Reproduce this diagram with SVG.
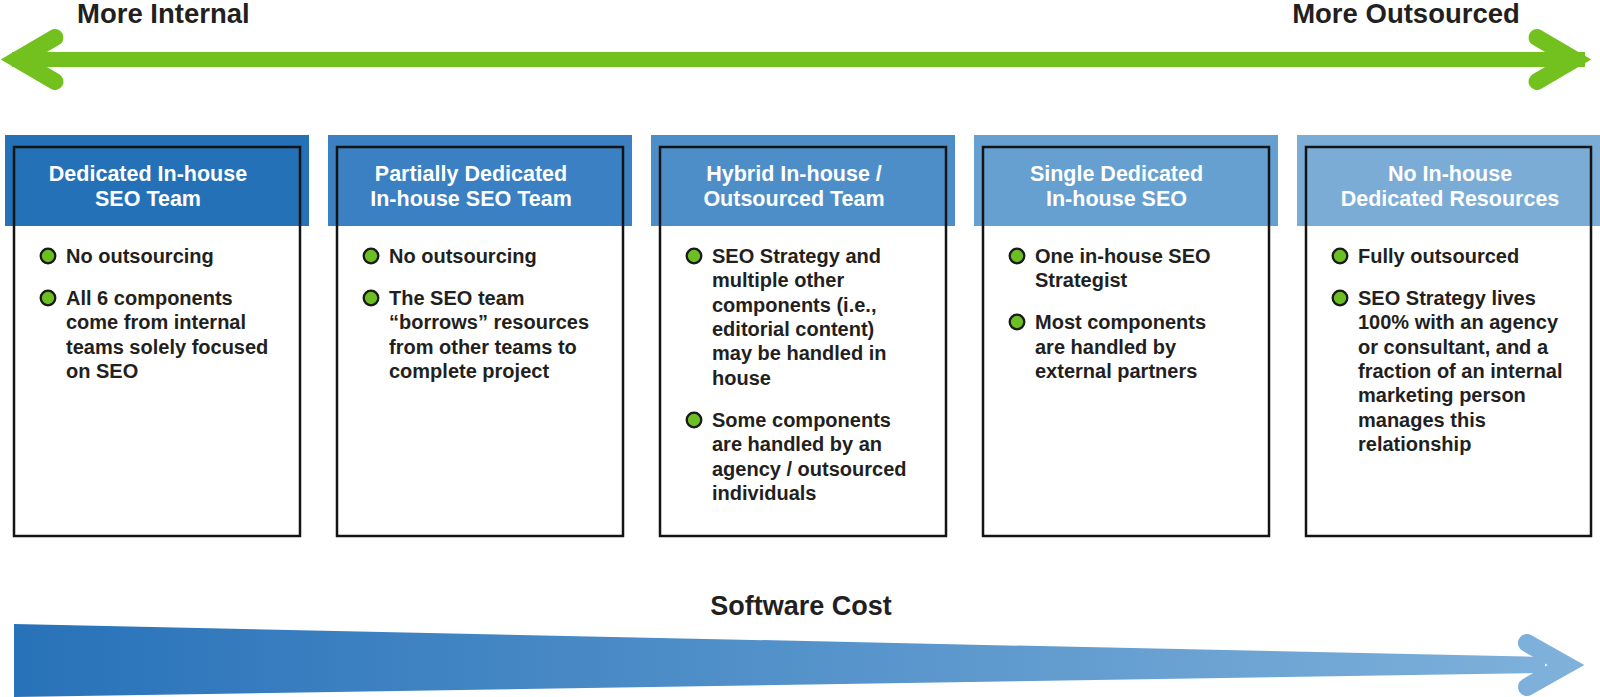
<svg xmlns="http://www.w3.org/2000/svg" width="1600" height="697" viewBox="0 0 1600 697">
<style>
.lbl{font-family:"Liberation Sans",Arial,sans-serif;font-weight:bold;fill:#231f20}
.top{font-size:27.5px}
.hd{font-family:"Liberation Sans",Arial,sans-serif;font-weight:bold;font-size:21.5px;fill:#fff;text-anchor:middle}
.bt{font-family:"Liberation Sans",Arial,sans-serif;font-weight:bold;font-size:20px;fill:#231f20}
.ol{fill:none;stroke:#141414;stroke-width:2.5}
.bul{fill:#6cbf22;stroke:#1a1a1a;stroke-width:2.3}
.garrow{fill:none;stroke:#73c11f;stroke-width:17;stroke-linecap:round;stroke-linejoin:miter;stroke-miterlimit:6}
</style>
<defs>
<linearGradient id="wedge" x1="14" y1="0" x2="1590" y2="0" gradientUnits="userSpaceOnUse">
<stop offset="0" stop-color="#2872b9"/>
<stop offset="1" stop-color="#80b2db"/>
</linearGradient>
</defs>

<g id="top-labels">
<text class="lbl top" x="77" y="23">More Internal</text>
<text class="lbl top" x="1406" y="23" text-anchor="middle">More Outsourced</text>
</g>

<g id="connectors">
<line x1="12" y1="59.5" x2="1585" y2="59.5" stroke="#73c11f" stroke-width="15"/>
<path class="garrow" d="M55,37.5 L17.5,59.5 L55,81.5"/>
<path class="garrow" d="M1537,37.5 L1574.5,59.5 L1537,81.5"/>
</g>

<g id="box1">
<rect x="5" y="135" width="304" height="91" fill="#2571b8"/>
<rect class="ol" x="14" y="147" width="286" height="389"/>
<text class="hd"><tspan x="148" y="181">Dedicated In-house</tspan><tspan x="148" y="206">SEO Team</tspan></text>
<circle class="bul" cx="48" cy="256" r="7.3"/>
<text class="bt" x="66" y="263">No outsourcing</text>
<circle class="bul" cx="48" cy="298" r="7.3"/>
<text class="bt"><tspan x="66" y="305">All 6 components</tspan><tspan x="66" y="329.3">come from internal</tspan><tspan x="66" y="353.6">teams solely focused</tspan><tspan x="66" y="377.9">on SEO</tspan></text>
</g>

<g id="box2">
<rect x="328" y="135" width="304" height="91" fill="#3a80c2"/>
<rect class="ol" x="337" y="147" width="286" height="389"/>
<text class="hd"><tspan x="471" y="181">Partially Dedicated</tspan><tspan x="471" y="206">In-house SEO Team</tspan></text>
<circle class="bul" cx="371" cy="256" r="7.3"/>
<text class="bt" x="389" y="263">No outsourcing</text>
<circle class="bul" cx="371" cy="298" r="7.3"/>
<text class="bt"><tspan x="389" y="305">The SEO team</tspan><tspan x="389" y="329.3">“borrows” resources</tspan><tspan x="389" y="353.6">from other teams to</tspan><tspan x="389" y="377.9">complete project</tspan></text>
</g>

<g id="box3">
<rect x="651" y="135" width="304" height="91" fill="#4e8ec8"/>
<rect class="ol" x="660" y="147" width="286" height="389"/>
<text class="hd"><tspan x="794" y="181">Hybrid In-house /</tspan><tspan x="794" y="206">Outsourced Team</tspan></text>
<circle class="bul" cx="694" cy="256" r="7.3"/>
<text class="bt"><tspan x="712" y="263">SEO Strategy and</tspan><tspan x="712" y="287.3">multiple other</tspan><tspan x="712" y="311.6">components (i.e.,</tspan><tspan x="712" y="335.9">editorial content)</tspan><tspan x="712" y="360.2">may be handled in</tspan><tspan x="712" y="384.5">house</tspan></text>
<circle class="bul" cx="694" cy="420" r="7.3"/>
<text class="bt"><tspan x="712" y="427">Some components</tspan><tspan x="712" y="451.3">are handled by an</tspan><tspan x="712" y="475.6">agency / outsourced</tspan><tspan x="712" y="499.9">individuals</tspan></text>
</g>

<g id="box4">
<rect x="974" y="135" width="304" height="91" fill="#65a0d0"/>
<rect class="ol" x="983" y="147" width="286" height="389"/>
<text class="hd"><tspan x="1116.5" y="181">Single Dedicated</tspan><tspan x="1116.5" y="206">In-house SEO</tspan></text>
<circle class="bul" cx="1017" cy="256" r="7.3"/>
<text class="bt"><tspan x="1035" y="263">One in-house SEO</tspan><tspan x="1035" y="287.3">Strategist</tspan></text>
<circle class="bul" cx="1017" cy="322" r="7.3"/>
<text class="bt"><tspan x="1035" y="329.3">Most components</tspan><tspan x="1035" y="353.6">are handled by</tspan><tspan x="1035" y="377.9">external partners</tspan></text>
</g>

<g id="box5">
<rect x="1297" y="135" width="303" height="91" fill="#7bacd6"/>
<rect class="ol" x="1306" y="147" width="285" height="389"/>
<text class="hd"><tspan x="1450" y="181">No In-house</tspan><tspan x="1450" y="206">Dedicated Resources</tspan></text>
<circle class="bul" cx="1340" cy="256" r="7.3"/>
<text class="bt" x="1358" y="263">Fully outsourced</text>
<circle class="bul" cx="1340" cy="298" r="7.3"/>
<text class="bt"><tspan x="1358" y="305">SEO Strategy lives</tspan><tspan x="1358" y="329.3">100% with an agency</tspan><tspan x="1358" y="353.6">or consultant, and a</tspan><tspan x="1358" y="377.9">fraction of an internal</tspan><tspan x="1358" y="402.2">marketing person</tspan><tspan x="1358" y="426.5">manages this</tspan><tspan x="1358" y="450.8">relationship</tspan></text>
</g>

<g id="software-cost">
<text class="lbl" x="801" y="615" text-anchor="middle" font-size="27">Software Cost</text>
<polygon points="14,624 1545,657 1545,673 14,697" fill="url(#wedge)"/>
<path d="M1527,643 L1566,665 L1527,687" fill="none" stroke="url(#wedge)" stroke-width="18" stroke-linecap="round" stroke-linejoin="miter" stroke-miterlimit="6"/>
</g>
</svg>
